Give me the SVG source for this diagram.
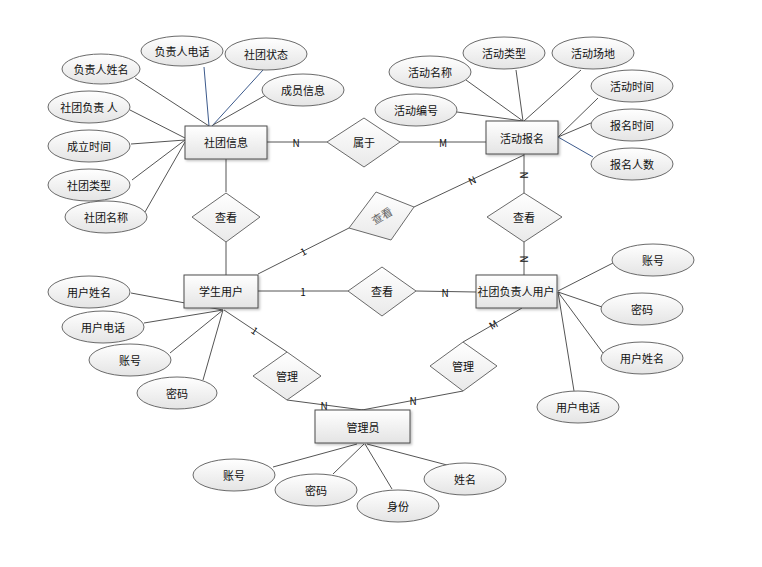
<svg xmlns="http://www.w3.org/2000/svg" width="762" height="567" viewBox="0 0 762 567">
<defs>
<linearGradient id="g" x1="0" y1="0" x2="0" y2="1"><stop offset="0" stop-color="#ffffff"/><stop offset="1" stop-color="#e4e4e4"/></linearGradient>
<linearGradient id="gd" x1="0" y1="0" x2="0" y2="1"><stop offset="0" stop-color="#ffffff"/><stop offset="1" stop-color="#e9e9e9"/></linearGradient>
<filter id="sh" x="-10%" y="-10%" width="130%" height="140%"><feDropShadow dx="1.5" dy="1.5" stdDeviation="1" flood-color="#000" flood-opacity="0.25"/></filter>
</defs>
<style>
text{font-family:"Noto Sans CJK SC","Liberation Sans",sans-serif;font-size:11px;fill:#111;text-anchor:middle;dominant-baseline:central}
.e{fill:url(#g);stroke:#6a6a6a;stroke-width:1}
.r{fill:url(#g);stroke:#4d4d4d;stroke-width:1;filter:url(#sh)}
.d{fill:url(#gd);stroke:#6a6a6a;stroke-width:1}
.l{stroke:#555;stroke-width:1;fill:none}
.b{stroke:#3c5a8c;stroke-width:1;fill:none}
.c{font-size:10px}
</style>
<rect width="762" height="567" fill="#fff"/>
<g id="connectors">
<line class="l" x1="135" y1="78" x2="209" y2="126"/>
<line class="b" x1="204" y1="67" x2="209" y2="126"/>
<line class="b" x1="263" y1="70" x2="212" y2="126"/>
<line class="l" x1="266" y1="95" x2="213" y2="125"/>
<line class="l" x1="130" y1="110" x2="185" y2="138"/>
<line class="l" x1="131" y1="144" x2="185" y2="140"/>
<line class="l" x1="132" y1="180" x2="185" y2="140"/>
<line class="l" x1="145" y1="212" x2="185" y2="142"/>
<line class="l" x1="267" y1="142" x2="327" y2="142"/>
<line class="l" x1="400" y1="142" x2="486" y2="142"/>
<line class="l" x1="226" y1="159" x2="226" y2="192"/>
<line class="l" x1="226" y1="242" x2="226" y2="275"/>
<line class="l" x1="466" y1="80" x2="523" y2="121"/>
<line class="l" x1="516" y1="70" x2="523" y2="121"/>
<line class="l" x1="581" y1="70" x2="524" y2="121"/>
<line class="l" x1="457" y1="112" x2="523" y2="121"/>
<line class="l" x1="598" y1="98" x2="558" y2="137"/>
<line class="l" x1="591" y1="123" x2="558" y2="137"/>
<line class="b" x1="558" y1="137" x2="593" y2="157"/>
<line class="l" x1="524" y1="155" x2="414" y2="207"/>
<line class="l" x1="524" y1="154" x2="524" y2="193"/>
<line class="l" x1="524" y1="242" x2="524" y2="275"/>
<line class="l" x1="258" y1="274" x2="349" y2="228"/>
<line class="l" x1="258" y1="291" x2="348" y2="291"/>
<line class="l" x1="416" y1="291" x2="476" y2="292"/>
<line class="l" x1="131" y1="293" x2="223" y2="310"/>
<line class="l" x1="144" y1="323" x2="223" y2="310"/>
<line class="l" x1="170" y1="353" x2="223" y2="310"/>
<line class="l" x1="203" y1="380" x2="223" y2="310"/>
<line class="l" x1="224" y1="310" x2="287" y2="352"/>
<line class="l" x1="287" y1="400" x2="363" y2="410"/>
<line class="l" x1="522" y1="308" x2="463" y2="342"/>
<line class="l" x1="463" y1="391" x2="362" y2="410"/>
<line class="l" x1="558" y1="291" x2="613" y2="263"/>
<line class="l" x1="558" y1="292" x2="602" y2="307"/>
<line class="l" x1="558" y1="292" x2="603" y2="353"/>
<line class="l" x1="558" y1="292" x2="574" y2="391"/>
<line class="l" x1="273" y1="467" x2="357" y2="444"/>
<line class="l" x1="333" y1="474" x2="364" y2="444"/>
<line class="l" x1="392" y1="489" x2="365" y2="444"/>
<line class="l" x1="447" y1="465" x2="367" y2="444"/>
<text class="c" x="296" y="142">N</text>
<text class="c" x="443" y="142">M</text>
<text class="c" x="472" y="180" transform="rotate(-25 472 180)">N</text>
<text class="c" x="524" y="175" transform="rotate(90 524 175)">N</text>
<text class="c" x="524" y="259" transform="rotate(90 524 259)">N</text>
<text class="c" x="303" y="251" transform="rotate(-27 303 251)">1</text>
<text class="c" x="303" y="291">1</text>
<text class="c" x="445" y="292">N</text>
<text class="c" x="255" y="330" transform="rotate(34 255 330)">1</text>
<text class="c" x="324" y="405">N</text>
<text class="c" x="493" y="324" transform="rotate(-30 493 324)">M</text>
<text class="c" x="413" y="400">N</text>
</g>
<g id="e-fzrxm"><ellipse class="e" cx="101" cy="69" rx="39" ry="15"/><text x="101" y="69">负责人姓名</text></g>
<g id="e-fzrdh"><ellipse class="e" cx="182" cy="51" rx="41" ry="15"/><text x="182" y="51">负责人电话</text></g>
<g id="e-stzt"><ellipse class="e" cx="266" cy="54" rx="41" ry="16"/><text x="266" y="54">社团状态</text></g>
<g id="e-cyxx"><ellipse class="e" cx="303" cy="90" rx="41" ry="16"/><text x="303" y="90">成员信息</text></g>
<g id="e-stfzr"><ellipse class="e" cx="89" cy="107" rx="41" ry="16"/><text x="89" y="107">社团负责 人</text></g>
<g id="e-clsj"><ellipse class="e" cx="89" cy="146" rx="41" ry="16"/><text x="89" y="146">成立时间</text></g>
<g id="e-stlx"><ellipse class="e" cx="89" cy="185" rx="41" ry="16"/><text x="89" y="185">社团类型</text></g>
<g id="e-stmc"><ellipse class="e" cx="106" cy="217" rx="41" ry="16"/><text x="106" y="217">社团名称</text></g>
<g id="e-hdmc"><ellipse class="e" cx="430" cy="72" rx="41" ry="16"/><text x="430" y="72">活动名称</text></g>
<g id="e-hdlx"><ellipse class="e" cx="504" cy="53" rx="41" ry="16"/><text x="504" y="53">活动类型</text></g>
<g id="e-hdcd"><ellipse class="e" cx="593" cy="53" rx="41" ry="16"/><text x="593" y="53">活动场地</text></g>
<g id="e-hdsj"><ellipse class="e" cx="632" cy="86" rx="41" ry="16"/><text x="632" y="86">活动时间</text></g>
<g id="e-hdbh"><ellipse class="e" cx="416" cy="110" rx="41" ry="16"/><text x="416" y="110">活动编号</text></g>
<g id="e-bmsj"><ellipse class="e" cx="632" cy="125" rx="41" ry="16"/><text x="632" y="125">报名时间</text></g>
<g id="e-bmrs"><ellipse class="e" cx="632" cy="164" rx="41" ry="16"/><text x="632" y="164">报名人数</text></g>
<g id="e-yhxm1"><ellipse class="e" cx="89" cy="292" rx="41" ry="16"/><text x="89" y="292">用户姓名</text></g>
<g id="e-yhdh1"><ellipse class="e" cx="103" cy="327" rx="41" ry="16"/><text x="103" y="327">用户电话</text></g>
<g id="e-zh1"><ellipse class="e" cx="130" cy="360" rx="41" ry="16"/><text x="130" y="360">账号</text></g>
<g id="e-mm1"><ellipse class="e" cx="177" cy="393" rx="40" ry="16"/><text x="177" y="393">密码</text></g>
<g id="e-zh2"><ellipse class="e" cx="653" cy="260" rx="41" ry="16"/><text x="653" y="260">账号</text></g>
<g id="e-mm2"><ellipse class="e" cx="642" cy="309" rx="41" ry="16"/><text x="642" y="309">密码</text></g>
<g id="e-yhxm2"><ellipse class="e" cx="642" cy="358" rx="41" ry="16"/><text x="642" y="358">用户姓名</text></g>
<g id="e-yhdh2"><ellipse class="e" cx="578" cy="407" rx="41" ry="16"/><text x="578" y="407">用户电话</text></g>
<g id="e-zh3"><ellipse class="e" cx="234" cy="475" rx="41" ry="16"/><text x="234" y="475">账号</text></g>
<g id="e-mm3"><ellipse class="e" cx="316" cy="490" rx="41" ry="16"/><text x="316" y="490">密码</text></g>
<g id="e-sf"><ellipse class="e" cx="398" cy="506" rx="41" ry="16"/><text x="398" y="506">身份</text></g>
<g id="e-xm"><ellipse class="e" cx="465" cy="479" rx="41" ry="16"/><text x="465" y="479">姓名</text></g>
<g id="d-sy"><polygon class="d" points="364,118 400,142 364,167 327,142"/><text x="364" y="142">属于</text></g>
<g id="d-ck1"><polygon class="d" points="226,193 260,217 226,242 192,217"/><text x="226" y="217">查看</text></g>
<g id="d-ck2"><polygon class="d" points="376,192 414,207 391,240 349,228"/><text x="382" y="216" transform="rotate(-30 382 216)" style="font-family:'Liberation Serif','Noto Sans CJK SC',serif;fill:#666">查看</text></g>
<g id="d-ck3"><polygon class="d" points="524,193 562,217 524,242 487,217"/><text x="524" y="217">查看</text></g>
<g id="d-ck4"><polygon class="d" points="382,267 416,291 382,316 348,291"/><text x="382" y="291">查看</text></g>
<g id="d-gl1"><polygon class="d" points="287,352 321,376 287,400 253,376"/><text x="287" y="376">管理</text></g>
<g id="d-gl2"><polygon class="d" points="463,342 497,366 463,391 430,366"/><text x="463" y="366">管理</text></g>
<g id="n-stxx"><rect class="r" x="185" y="126" width="82" height="33"/><text x="226" y="142">社团信息</text></g>
<g id="n-hdbm"><rect class="r" x="486" y="121" width="72" height="33"/><text x="522" y="138">活动报名</text></g>
<g id="n-xsyh"><rect class="r" x="184" y="275" width="74" height="33"/><text x="221" y="291">学生用户</text></g>
<g id="n-stfzryh"><rect class="r" x="476" y="275" width="81" height="33"/><text x="516" y="291">社团负责人用户</text></g>
<g id="n-gly"><rect class="r" x="315" y="410" width="95" height="33"/><text x="363" y="427">管理员</text></g>
</svg>
